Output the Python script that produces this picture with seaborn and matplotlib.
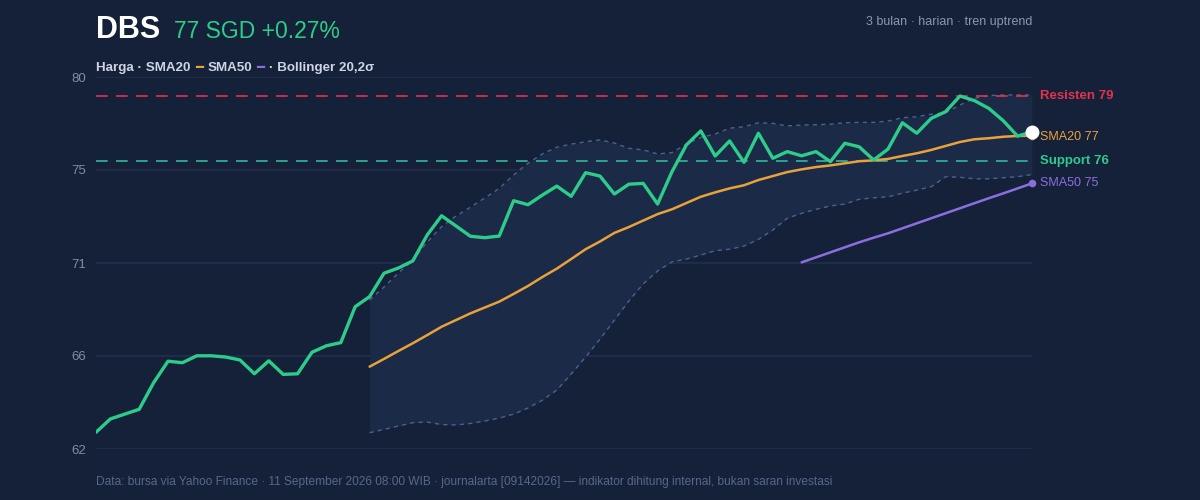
import numpy as np
import pandas as pd
import seaborn as sns
import matplotlib.pyplot as plt
from matplotlib.offsetbox import TextArea, HPacker, AnchoredOffsetbox

# Price data (3 months, daily closes)
price = [62.70, 63.34, 63.57, 63.80, 65.07, 66.10, 66.03, 66.36, 66.36, 66.30,
         66.16, 65.50, 66.12, 65.47, 65.50, 66.53, 66.84, 66.99, 68.71, 69.19,
         70.31, 70.56, 70.90, 72.14, 73.06, 72.57, 72.08, 72.01, 72.09, 73.78,
         73.59, 74.05, 74.48, 73.99, 75.12, 74.96, 74.10, 74.57, 74.61, 73.62,
         75.17, 76.45, 77.12, 75.92, 76.64, 75.62, 77.01, 75.81, 76.13, 75.93,
         76.13, 75.65, 76.53, 76.36, 75.73, 76.25, 77.51, 77.01, 77.72, 78.04,
         78.79, 78.57, 78.20, 77.61, 76.87, 77.08]

sma20 = [65.84, 66.21, 66.59, 66.96, 67.35, 67.75, 68.07, 68.39, 68.67, 68.95,
         69.32, 69.70, 70.13, 70.53, 70.99, 71.46, 71.83, 72.24, 72.52, 72.83,
         73.14, 73.37, 73.67, 73.97, 74.18, 74.37, 74.52, 74.77, 74.96, 75.15,
         75.28, 75.39, 75.47, 75.57, 75.67, 75.71, 75.78, 75.92, 76.05, 76.21,
         76.40, 76.59, 76.72, 76.77, 76.84, 76.88, 76.89]

sma50 = [70.83, 71.07, 71.31, 71.55, 71.79, 72.01, 72.22, 72.46, 72.70, 72.94,
         73.18, 73.42, 73.66, 73.90, 74.13, 74.37, 74.61]

bb_upper = [69.03, 69.65, 70.32, 70.94, 71.80, 72.54, 73.05, 73.47, 73.91, 74.37,
            75.01, 75.57, 76.02, 76.34, 76.49, 76.60, 76.69, 76.54, 76.29, 76.21,
            76.02, 76.08, 76.49, 76.81, 76.97, 77.25, 77.32, 77.51, 77.48, 77.36,
            77.40, 77.42, 77.44, 77.51, 77.53, 77.53, 77.59, 77.75, 77.80, 77.92,
            77.99, 78.36, 78.68, 78.81, 78.84, 78.84, 78.84]

bb_lower = [62.68, 62.84, 63.00, 63.16, 63.19, 63.07, 63.05, 63.12, 63.24, 63.38,
            63.57, 63.86, 64.24, 64.72, 65.49, 66.30, 67.16, 68.07, 68.98, 69.80,
            70.42, 70.85, 70.99, 71.18, 71.39, 71.46, 71.61, 71.93, 72.38, 72.94,
            73.18, 73.37, 73.53, 73.62, 73.85, 73.92, 73.97, 74.14, 74.29, 74.45,
            74.93, 74.90, 74.83, 74.83, 74.88, 74.93, 75.03]

resistance = 78.8
support = 75.7
y_range = (61.9, 79.7)

BG = "#152138"
GREEN = "#2ecc8a"
ORANGE = "#e9a23b"
PURPLE = "#8a6fe0"
RED = "#e0334f"
BAND = "#4b6190"

days = np.arange(len(price))
df = pd.DataFrame({"day": days, "price": price})
df_band = pd.DataFrame({"day": days[19:], "sma20": sma20, "upper": bb_upper, "lower": bb_lower})
df50 = pd.DataFrame({"day": days[49:], "sma50": sma50})

sns.set_theme(style="dark")
plt.rcParams["font.family"] = ["Liberation Sans", "DejaVu Sans"]

fig = plt.figure(figsize=(12, 5), dpi=100, facecolor=BG)
ax = fig.add_axes([0.08, 0.102, 0.78, 0.744])
ax.set_facecolor(BG)

# Bollinger band
ax.fill_between(df_band["day"], df_band["lower"], df_band["upper"], color="#1b2a46", lw=0, zorder=1)
sns.lineplot(data=df_band, x="day", y="upper", ax=ax, color=BAND, lw=1, zorder=2).lines[-1].set_dashes([3, 3])
sns.lineplot(data=df_band, x="day", y="lower", ax=ax, color=BAND, lw=1, zorder=2).lines[-1].set_dashes([3, 3])

# support / resistance
ax.axhline(resistance, color=RED, lw=1.2, dashes=(7, 5), zorder=2)
ax.axhline(support, color="#2fb89a", lw=1.2, dashes=(7, 5), zorder=2)

sns.lineplot(data=df50, x="day", y="sma50", ax=ax, color=PURPLE, lw=1.8, zorder=3)
sns.lineplot(data=df_band, x="day", y="sma20", ax=ax, color=ORANGE, lw=1.8, zorder=3)
sns.lineplot(data=df, x="day", y="price", ax=ax, color=GREEN, lw=2.4, zorder=4)

ax.scatter([days[-1]], [sma50[-1]], s=30, color=PURPLE, zorder=5, lw=0, clip_on=False)
ax.scatter([days[-1]], [sma20[-1]], s=30, color=ORANGE, zorder=5, lw=0, clip_on=False)
ax.scatter([days[-1]], [price[-1]], s=100, color="white", zorder=6, lw=0, clip_on=False)

ax.set_xlim(days[0], days[-1])
ax.set_ylim(*y_range)
ticks = np.linspace(y_range[0], y_range[1], 5)
ax.set_yticks(ticks)
ax.set_yticklabels([f"{t:.0f}" for t in ticks])
ax.set_xticks([])
ax.set_xlabel("")
ax.set_ylabel("")
ax.tick_params(axis="y", colors="#7f8ca6", labelsize=9.5, length=0, pad=7)
ax.grid(axis="y", color="#212f4b", lw=1.2)
ax.grid(axis="x", visible=False)
for s in ax.spines.values():
    s.set_visible(False)

# right-side labels
lx = days[-1] + 0.55
ax.text(lx, resistance, "Resisten 79", color=RED, fontsize=9.5, fontweight="bold", va="center", clip_on=False)
ax.text(lx, sma20[-1] - 0.05, "SMA20 77", color=ORANGE, fontsize=9, va="center", clip_on=False)
ax.text(lx, support, "Support 76", color=GREEN, fontsize=9.5, fontweight="bold", va="center", clip_on=False)
ax.text(lx, sma50[-1], "SMA50 75", color=PURPLE, fontsize=9, va="center", clip_on=False)

# header
fig.text(0.08, 1 - 38 / 500, "DBS", color="white", fontsize=22, fontweight="bold", va="baseline")
fig.text(0.145, 1 - 38 / 500, "77 SGD +0.27%", color=GREEN, fontsize=16.5, va="baseline")
fig.text(0.86, 1 - 25 / 500, "3 bulan · harian · tren uptrend", color="#8a97b0", fontsize=9,
         ha="right", va="baseline")

leg_col = "#cdd5e4"
parts = [("Harga · SMA20", leg_col), ("━", ORANGE), ("SMA50", leg_col), ("━", PURPLE),
         ("· Bollinger 20,2σ", leg_col)]
boxes = [TextArea(t, textprops=dict(color=c, fontsize=9.6, fontweight="bold")) for t, c in parts]
row = HPacker(children=boxes, align="baseline", pad=0, sep=3.2)
anchored = AnchoredOffsetbox(loc="upper left", child=row, pad=0, frameon=False,
                             bbox_to_anchor=(0.08, 1 - 62 / 500), bbox_transform=fig.transFigure,
                             borderpad=0)
fig.add_artist(anchored)

fig.text(0.08, 1 - 485 / 500,
         "Data: bursa via Yahoo Finance · 11 September 2026 08:00 WIB · journalarta [09142026] — indikator dihitung internal, bukan saran investasi",
         color="#56688a", fontsize=8.6, va="baseline")

fig.savefig("out.png", dpi=100, facecolor=BG)
